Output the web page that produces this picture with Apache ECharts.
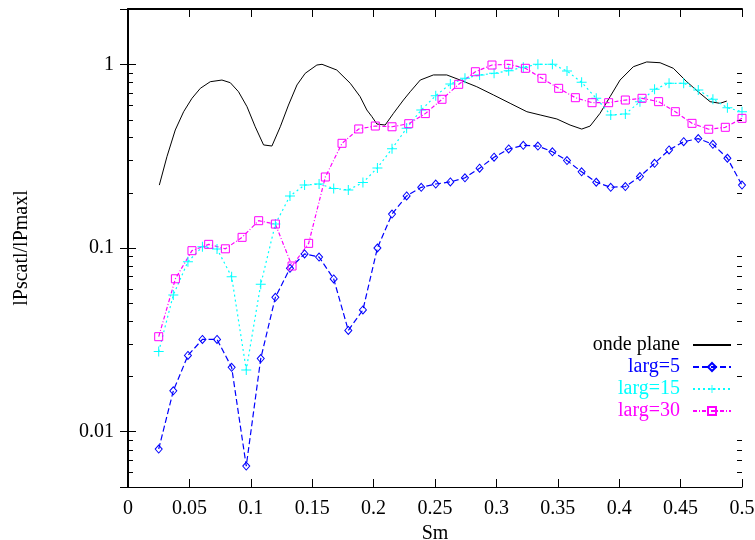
<!DOCTYPE html>
<html><head><meta charset="utf-8">
<script src="https://cdn.jsdelivr.net/npm/echarts@6/dist/echarts.min.js"></script>
<style>html,body{margin:0;padding:0;background:#fff}#c{width:755px;height:540px}</style>
</head><body><div id="c"></div>
<script>
// ---- data ----
const xTickLabels = ['0','0.05','0.1','0.15','0.2','0.25','0.3','0.35','0.4','0.45','0.5'];
const yTickValues = [0.01, 0.1, 1];
const yTickLabels = ['0.01', '0.1', '1'];
const yMinorValues = [0.006,0.007,0.008,0.009,0.02,0.03,0.04,0.05,0.06,0.07,0.08,0.09,0.2,0.3,0.4,0.5,0.6,0.7,0.8,0.9];

const smFine = [0.025,0.0369,0.0488,0.0606,0.0725,0.0844,0.0963,0.1081,0.12,0.1319,0.1438,0.1556,0.1675,0.1794,0.1913,0.2031,0.215,0.2269,0.2388,0.2506,0.2625,0.2744,0.2863,0.2981,0.31,0.3219,0.3338,0.3456,0.3575,0.3694,0.3813,0.3931,0.405,0.4169,0.4288,0.4406,0.4525,0.4644,0.4763,0.4881,0.5];
const smCoarse = [0.025,0.0386,0.0521,0.0657,0.0793,0.0929,0.1064,0.12,0.1336,0.1471,0.1607,0.1743,0.1879,0.2014,0.215,0.2286,0.2421,0.2557,0.2693,0.2829,0.2964,0.31,0.3236,0.3371,0.3507,0.3643,0.3779,0.3914,0.405,0.4186,0.4321,0.4457,0.4593,0.4729,0.4864,0.5];

const ondePlaneX = [0.0255,0.0317,0.0385,0.0453,0.0521,0.0589,0.067,0.0765,0.0833,0.090,0.0969,0.1036,0.1104,0.1172,0.124,0.1307,0.1376,0.1443,0.1538,0.158,0.170,0.181,0.189,0.1945,0.1986,0.2027,0.2094,0.2162,0.2243,0.2298,0.238,0.2487,0.2596,0.2705,0.284,0.2976,0.3112,0.3248,0.3356,0.3492,0.360,0.3695,0.3763,0.3844,0.3926,0.4007,0.4115,0.4224,0.4333,0.4441,0.455,0.4658,0.474,0.4821,0.4876];
const ondePlaneY = [0.220,0.314,0.439,0.552,0.653,0.740,0.804,0.821,0.794,0.709,0.588,0.457,0.364,0.359,0.457,0.600,0.772,0.893,0.991,1.0,0.931,0.788,0.667,0.564,0.519,0.473,0.467,0.541,0.639,0.709,0.821,0.875,0.875,0.821,0.755,0.681,0.613,0.552,0.530,0.504,0.467,0.444,0.461,0.541,0.667,0.821,0.970,1.03,1.02,0.951,0.804,0.695,0.626,0.613,0.631];

const larg5 = [0.00805,0.0167,0.026,0.0318,0.0318,0.0224,0.0065,0.025,0.0539,0.0775,0.0928,0.0893,0.0679,0.0356,0.046,0.100,0.153,0.192,0.214,0.223,0.229,0.241,0.272,0.312,0.346,0.362,0.359,0.334,0.299,0.260,0.228,0.214,0.216,0.245,0.289,0.342,0.379,0.394,0.367,0.308,0.220];
const larg15 = [0.0273,0.0555,0.0842,0.1017,0.0988,0.0698,0.0217,0.0634,0.135,0.192,0.220,0.223,0.211,0.207,0.227,0.273,0.347,0.449,0.564,0.675,0.781,0.839,0.875,0.893,0.923,0.963,1.0,1.0,0.919,0.798,0.653,0.530,0.536,0.626,0.731,0.788,0.788,0.725,0.645,0.580,0.552];
const larg30 = [0.0329,0.068,0.0967,0.1047,0.099,0.1143,0.1408,0.135,0.0798,0.106,0.2435,0.3715,0.4446,0.4613,0.457,0.475,0.539,0.645,0.778,0.911,0.991,1.0,0.951,0.839,0.740,0.658,0.618,0.618,0.639,0.653,0.626,0.552,0.477,0.443,0.454,0.508];

const seriesNames = ['onde plane', 'larg=5', 'larg=15', 'larg=30'];
// ---- chart ----
const FONT = 'Liberation Serif';
const pair = (xs, ys) => xs.map((x, i) => [x, ys[i]]);
const yLabel = v => {
  const k = yTickValues.findIndex(t => Math.abs(Math.log10(v) - Math.log10(t)) < 1e-6);
  return k >= 0 ? yTickLabels[k] : '';
};
const xLabel = v => {
  const k = Math.round(v / 0.05);
  return Math.abs(v - k * 0.05) < 1e-9 ? xTickLabels[k] : '';
};
const chart = echarts.init(document.getElementById('c'), null, {renderer: 'canvas'});
const plusPath = 'path://M0,4.5H10V5.5H0Z M4.5,0H5.5V10H4.5Z';
const axisTxt = {fontFamily: FONT, fontSize: 20, color: '#000'};
const option = {
  backgroundColor: '#fff',
  animation: false,
  grid: {left: 128, right: 13, top: 9, bottom: 53, containLabel: false, outerBoundsMode: 'none'},
  xAxis: [
    {type: 'value', min: 0, max: 0.5, interval: 0.05, position: 'bottom',
     name: 'Sm', nameLocation: 'middle', nameGap: 21, nameTextStyle: axisTxt,
     axisLine: {lineStyle: {color: '#000', width: 1}},
     axisTick: {inside: true, length: 8, lineStyle: {color: '#000'}},
     axisLabel: Object.assign({margin: 12, formatter: xLabel}, axisTxt),
     splitLine: {show: false}},
    {type: 'value', min: 0, max: 0.5, interval: 0.05, position: 'top',
     axisLine: {lineStyle: {color: '#000', width: 2}},
     axisTick: {inside: true, length: 8, lineStyle: {color: '#000'}},
     axisLabel: {show: false}, splitLine: {show: false}}
  ],
  yAxis: [
    {type: 'log', logBase: 10, min: 0.005, max: 2, position: 'left',
     name: 'lPscatl/lPmaxl', nameLocation: 'middle', nameGap: 96, nameTextStyle: axisTxt,
     axisLine: {lineStyle: {color: '#000', width: 1}},
     axisTick: {inside: true, length: 8, lineStyle: {color: '#000'}},
     axisLabel: Object.assign({margin: 14, formatter: yLabel}, axisTxt),
     splitLine: {show: false}, minorTick: {show: false}},
    {type: 'log', logBase: 10, min: 0.005, max: 2, position: 'right',
     axisLine: {lineStyle: {color: '#000', width: 2}},
     axisTick: {inside: true, length: 8, lineStyle: {color: '#000'}},
     axisLabel: {show: false}, splitLine: {show: false}}
  ],
  legend: {
    orient: 'vertical', right: 18, top: 330, align: 'right',
    itemWidth: 38, itemHeight: 10, itemGap: 2,
    textStyle: {fontFamily: FONT, fontSize: 20, lineHeight: 20, padding: [0, 8, 0, 0]},
    data: [
      {name: seriesNames[0], textStyle: {color: '#000'}, itemStyle: {opacity: 0}},
      {name: seriesNames[1], textStyle: {color: '#0000ff'}},
      {name: seriesNames[2], textStyle: {color: '#00ffff'}},
      {name: seriesNames[3], textStyle: {color: '#ff00ff'}}
    ]
  },
  series: [
    {name: seriesNames[0], type: 'line', data: pair(ondePlaneX, ondePlaneY),
     showSymbol: false, symbol: 'none', color: '#000',
     lineStyle: {color: '#000', width: 1}},
    {name: seriesNames[1], type: 'line', data: pair(smFine, larg5),
     symbol: 'diamond', symbolSize: [7, 8], color: '#0000ff',
     itemStyle: {color: 'rgba(255,255,255,0)', borderColor: '#0000ff', borderWidth: 1},
     lineStyle: {color: '#0000ff', width: 1.2, type: [6, 3]}},
    {name: seriesNames[2], type: 'line', data: pair(smFine, larg15),
     symbol: plusPath, symbolSize: 10, color: '#00ffff',
     itemStyle: {color: '#00ffff'},
     lineStyle: {color: '#00ffff', width: 1.2, type: [2, 3]}},
    {name: seriesNames[3], type: 'line', data: pair(smCoarse, larg30),
     symbol: 'rect', symbolSize: 8, color: '#ff00ff',
     itemStyle: {color: 'rgba(255,255,255,0)', borderColor: '#ff00ff', borderWidth: 1},
     lineStyle: {color: '#ff00ff', width: 1.2, type: [4, 2, 1, 2]}}
  ]
};
chart.setOption(option);

// minor log ticks on left and right edges, placed through the axis scale
const xl = chart.convertToPixel({xAxisIndex: 0}, 0);
const xr = chart.convertToPixel({xAxisIndex: 0}, 0.5);
const g = [];
yMinorValues.forEach(v => {
  const y = Math.round(chart.convertToPixel({yAxisIndex: 0}, v)) + 0.5;
  g.push({type: 'line', shape: {x1: xl, y1: y, x2: xl + 5, y2: y}, style: {stroke: '#000', lineWidth: 1}, silent: true});
  g.push({type: 'line', shape: {x1: xr - 5, y1: y, x2: xr, y2: y}, style: {stroke: '#000', lineWidth: 1}, silent: true});
});
chart.setOption({graphic: g});
</script>
</body></html>
